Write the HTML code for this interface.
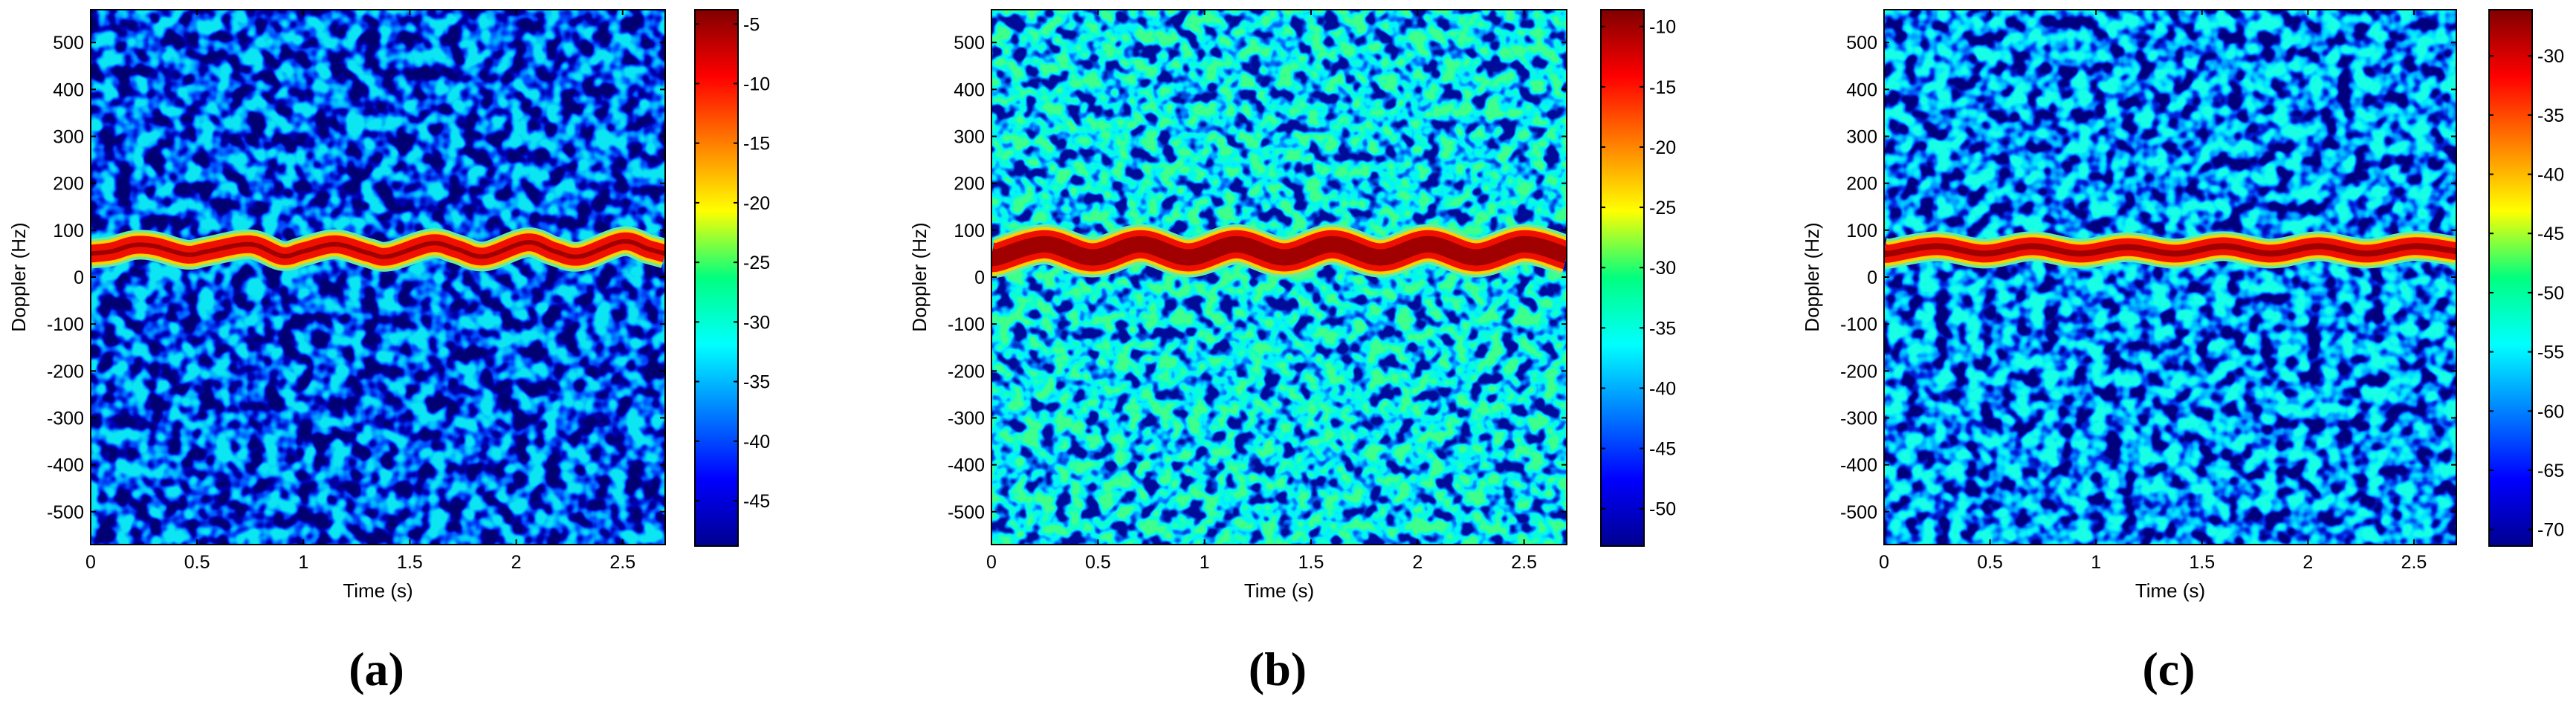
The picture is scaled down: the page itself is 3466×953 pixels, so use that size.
<!DOCTYPE html>
<html><head><meta charset="utf-8">
<style>
html,body{margin:0;padding:0;background:#fff;}
svg{display:block;font-family:"Liberation Sans",Arial,sans-serif;}
</style></head>
<body>
<svg id="fig" width="3466" height="953" viewBox="0 0 3466 953" xmlns="http://www.w3.org/2000/svg">
<defs>
<linearGradient id="jet" x1="0" y1="1" x2="0" y2="0">
<stop offset="0" stop-color="#00008f"/>
<stop offset="0.125" stop-color="#0000ff"/>
<stop offset="0.375" stop-color="#00ffff"/>
<stop offset="0.5" stop-color="#00ff80"/>
<stop offset="0.625" stop-color="#ffff00"/>
<stop offset="0.875" stop-color="#ff0000"/>
<stop offset="1" stop-color="#800000"/>
</linearGradient>
<filter id="noiseA" x="0" y="0" width="100%" height="100%" color-interpolation-filters="sRGB">
<feTurbulence type="fractalNoise" baseFrequency="0.045" numOctaves="2" seed="3"/>
<feColorMatrix type="matrix" values="1 0 0 0 0 1 0 0 0 0 1 0 0 0 0 0 0 0 0 1"/>
<feComponentTransfer><feFuncR type="linear" slope="3.2" intercept="-1.1"/><feFuncG type="linear" slope="3.2" intercept="-1.1"/><feFuncB type="linear" slope="3.2" intercept="-1.1"/><feFuncA type="discrete" tableValues="1"/></feComponentTransfer>
<feComponentTransfer><feFuncR type="table" tableValues="0 0 0 0 0.05"/><feFuncG type="table" tableValues="0 0 0.3 0.7 0.9"/><feFuncB type="table" tableValues="0.45 0.7 1 1 0.95"/></feComponentTransfer>
</filter>
<filter id="noiseB" x="0" y="0" width="100%" height="100%" color-interpolation-filters="sRGB">
<feTurbulence type="fractalNoise" baseFrequency="0.05" numOctaves="2" seed="7"/>
<feColorMatrix type="matrix" values="1 0 0 0 0 1 0 0 0 0 1 0 0 0 0 0 0 0 0 1"/>
<feComponentTransfer><feFuncR type="linear" slope="3.2" intercept="-1.1"/><feFuncG type="linear" slope="3.2" intercept="-1.1"/><feFuncB type="linear" slope="3.2" intercept="-1.1"/><feFuncA type="discrete" tableValues="1"/></feComponentTransfer>
<feComponentTransfer><feFuncR type="table" tableValues="0 0 0 0.05 0.25"/><feFuncG type="table" tableValues="0.05 0.45 0.95 1 1"/><feFuncB type="table" tableValues="0.6 1 1 0.8 0.55"/></feComponentTransfer>
</filter>
<filter id="noiseC" x="0" y="0" width="100%" height="100%" color-interpolation-filters="sRGB">
<feTurbulence type="fractalNoise" baseFrequency="0.048" numOctaves="2" seed="11"/>
<feColorMatrix type="matrix" values="1 0 0 0 0 1 0 0 0 0 1 0 0 0 0 0 0 0 0 1"/>
<feComponentTransfer><feFuncR type="linear" slope="3.2" intercept="-1.1"/><feFuncG type="linear" slope="3.2" intercept="-1.1"/><feFuncB type="linear" slope="3.2" intercept="-1.1"/><feFuncA type="discrete" tableValues="1"/></feComponentTransfer>
<feComponentTransfer><feFuncR type="table" tableValues="0 0 0 0 0.1"/><feFuncG type="table" tableValues="0 0.15 0.6 0.9 1"/><feFuncB type="table" tableValues="0.5 0.9 1 1 0.9"/></feComponentTransfer>
</filter>
</defs>
</svg>
<script>
// ---- data ----
const timeTicks = [0, 0.5, 1, 1.5, 2, 2.5];
const dopplerTicks = [-500, -400, -300, -200, -100, 0, 100, 200, 300, 400, 500];
const timeRange = [0, 2.7];
const dopplerRange = [-570, 570];
const panelLetters = ["a", "b", "c"];
const cbRangeA = [-48.8, -3.8];
const cbRangeB = [-53.1, -8.6];
const cbRangeC = [-71.4, -26.1];
const cbTicksA = [-45, -40, -35, -30, -25, -20, -15, -10, -5];
const cbTicksB = [-50, -45, -40, -35, -30, -25, -20, -15, -10];
const cbTicksC = [-70, -65, -60, -55, -50, -45, -40, -35, -30];
const bandTimesA = [0, 0.1, 0.2, 0.3, 0.45, 0.55, 0.75, 0.9, 1.0, 1.15, 1.3, 1.4, 1.6, 1.72, 1.85, 2.05, 2.18, 2.3, 2.5, 2.62, 2.7];
const bandFreqA  = [50, 55, 68, 66, 48, 55, 70, 45, 55, 70, 52, 44, 72, 60, 44, 74, 55, 44, 76, 60, 50];
const bandTimesB = [0, 0.025, 0.25, 0.475, 0.7, 0.925, 1.15, 1.375, 1.6, 1.825, 2.05, 2.275, 2.5, 2.7];
const bandFreqB  = [44, 42, 70, 42, 70, 42, 70, 42, 70, 42, 70, 42, 70, 46];
const bandTimesC = [0, 0.025, 0.25, 0.475, 0.7, 0.925, 1.15, 1.375, 1.6, 1.825, 2.05, 2.275, 2.5, 2.7];
const bandFreqC  = [52, 50, 66, 50, 66, 50, 64, 50, 66, 50, 66, 50, 66, 55];

const NS = "http://www.w3.org/2000/svg";
const svg = document.getElementById("fig");
function mk(tag, attrs, parent) {
  const e = document.createElementNS(NS, tag);
  for (const k in attrs) e.setAttribute(k, attrs[k]);
  (parent || svg).appendChild(e);
  return e;
}
const TOP = 13, BOT = 733;
const CBTOP = 13, CBBOT = 735, CBW = 58;
const panels = [
  {left: 122, w: 773, cb: 935, filt: "noiseA", times: bandTimesA, freqs: bandFreqA, cbRange: cbRangeA, cbTicks: cbTicksA,
   widths: [40, 32, 24, 6], base: "#1540d0"},
  {left: 1334, w: 774, cb: 2154, filt: "noiseB", times: bandTimesB, freqs: bandFreqB, cbRange: cbRangeB, cbTicks: cbTicksB,
   widths: [54, 46, 38, 22], base: "#2a9ee8"},
  {left: 2535, w: 770, cb: 3349, filt: "noiseC", times: bandTimesC, freqs: bandFreqC, cbRange: cbRangeC, cbTicks: cbTicksC,
   widths: [40, 32, 24, 8], base: "#1f6fe0"}
];

function smoothPath(pts) {
  let d = "M" + pts[0][0] + "," + pts[0][1];
  for (let i = 0; i < pts.length - 1; i++) {
    const p0 = pts[Math.max(0, i - 1)], p1 = pts[i], p2 = pts[i + 1], p3 = pts[Math.min(pts.length - 1, i + 2)];
    const c1x = p1[0] + (p2[0] - p0[0]) / 6, c1y = p1[1] + (p2[1] - p0[1]) / 6;
    const c2x = p2[0] - (p3[0] - p1[0]) / 6, c2y = p2[1] - (p3[1] - p1[1]) / 6;
    d += " C" + c1x + "," + c1y + " " + c2x + "," + c2y + " " + p2[0] + "," + p2[1];
  }
  return d;
}

panels.forEach((p, idx) => {
  const W = p.w;
  const xs = t => p.left + (t - timeRange[0]) / (timeRange[1] - timeRange[0]) * W;
  const ys = f => BOT - (f - dopplerRange[0]) / (dopplerRange[1] - dopplerRange[0]) * (BOT - TOP);
  const g = mk("g", {});
  
  
  const clipId = "clip" + idx;
  const cp = mk("clipPath", {id: clipId}, g);
  mk("rect", {x: p.left, y: TOP, width: W, height: BOT - TOP}, cp);
  const bg = mk("rect", {x: p.left, y: TOP, width: W, height: BOT - TOP, fill: p.base}, g);
  
  
  const nz = mk("rect", {x: p.left, y: TOP, width: W, height: BOT - TOP, filter: "url(#" + p.filt + ")"}, g);
  
  
  const pts = p.times.map((t, i) => [xs(t), ys(p.freqs[i])]);
  const d = smoothPath(pts);
  const cols = ["#6cec9a", "#ffd000", "#f01000", "#a00000"];
  const bandG = mk("g", {"clip-path": "url(#" + clipId + ")"}, g);
  
  
  p.widths.forEach((w, k) => {
    const path = mk("path", {d: d, fill: "none", stroke: cols[k], "stroke-width": w, "stroke-linecap": "butt", "stroke-linejoin": "round"}, bandG);
    
    
  });
  const fr = mk("rect", {x: p.left, y: TOP, width: W, height: BOT - TOP, fill: "none", stroke: "#000", "stroke-width": 2}, g);
  
  
  dopplerTicks.forEach(v => {
    const y = ys(v);
    mk("line", {x1: p.left, x2: p.left + 7, y1: y, y2: y, stroke: "#000", "stroke-width": 2}, g);
    mk("line", {x1: p.left + W, x2: p.left + W - 7, y1: y, y2: y, stroke: "#000", "stroke-width": 2}, g);
    const t = mk("text", {x: p.left - 9, y: y + 9, "font-size": 25, "text-anchor": "end"}, g);
    t.textContent = v;
    
    
  });
  timeTicks.forEach(v => {
    const x = xs(v);
    mk("line", {x1: x, x2: x, y1: BOT, y2: BOT - 7, stroke: "#000", "stroke-width": 2}, g);
    mk("line", {x1: x, x2: x, y1: TOP, y2: TOP + 7, stroke: "#000", "stroke-width": 2}, g);
    const t = mk("text", {x: x, y: 765, "font-size": 25, "text-anchor": "middle"}, g);
    t.textContent = v;
    
    
  });
  const xl = mk("text", {x: p.left + W / 2, y: 804, "font-size": 26, "text-anchor": "middle"}, g);
  xl.textContent = "Time (s)";
  
  
  const yl = mk("text", {x: 0, y: 0, "font-size": 26, "text-anchor": "middle", transform: "translate(" + (p.left - 88) + "," + ys(0) + ") rotate(-90)"}, g);
  yl.textContent = "Doppler (Hz)";
  
  
  const cbs = v => CBTOP + (p.cbRange[1] - v) / (p.cbRange[1] - p.cbRange[0]) * (CBBOT - CBTOP);
  const cbr = mk("rect", {x: p.cb, y: CBTOP, width: CBW, height: CBBOT - CBTOP, fill: "url(#jet)", stroke: "#000", "stroke-width": 2}, g);
  
  
  p.cbTicks.forEach(v => {
    const y = cbs(v);
    mk("line", {x1: p.cb, x2: p.cb + 6, y1: y, y2: y, stroke: "#000", "stroke-width": 2}, g);
    mk("line", {x1: p.cb + CBW, x2: p.cb + CBW - 6, y1: y, y2: y, stroke: "#000", "stroke-width": 2}, g);
    const t = mk("text", {x: p.cb + CBW + 7, y: y + 9, "font-size": 25, "text-anchor": "start"}, g);
    t.textContent = v;
    
    
  });
  const cap = mk("text", {x: p.left + W / 2 - 2, y: 922, "font-size": 64, "font-weight": "bold", "text-anchor": "middle", "font-family": "Liberation Serif, serif"}, g);
  cap.textContent = "(" + panelLetters[idx] + ")";
  
  
});
</script>
</body></html>
